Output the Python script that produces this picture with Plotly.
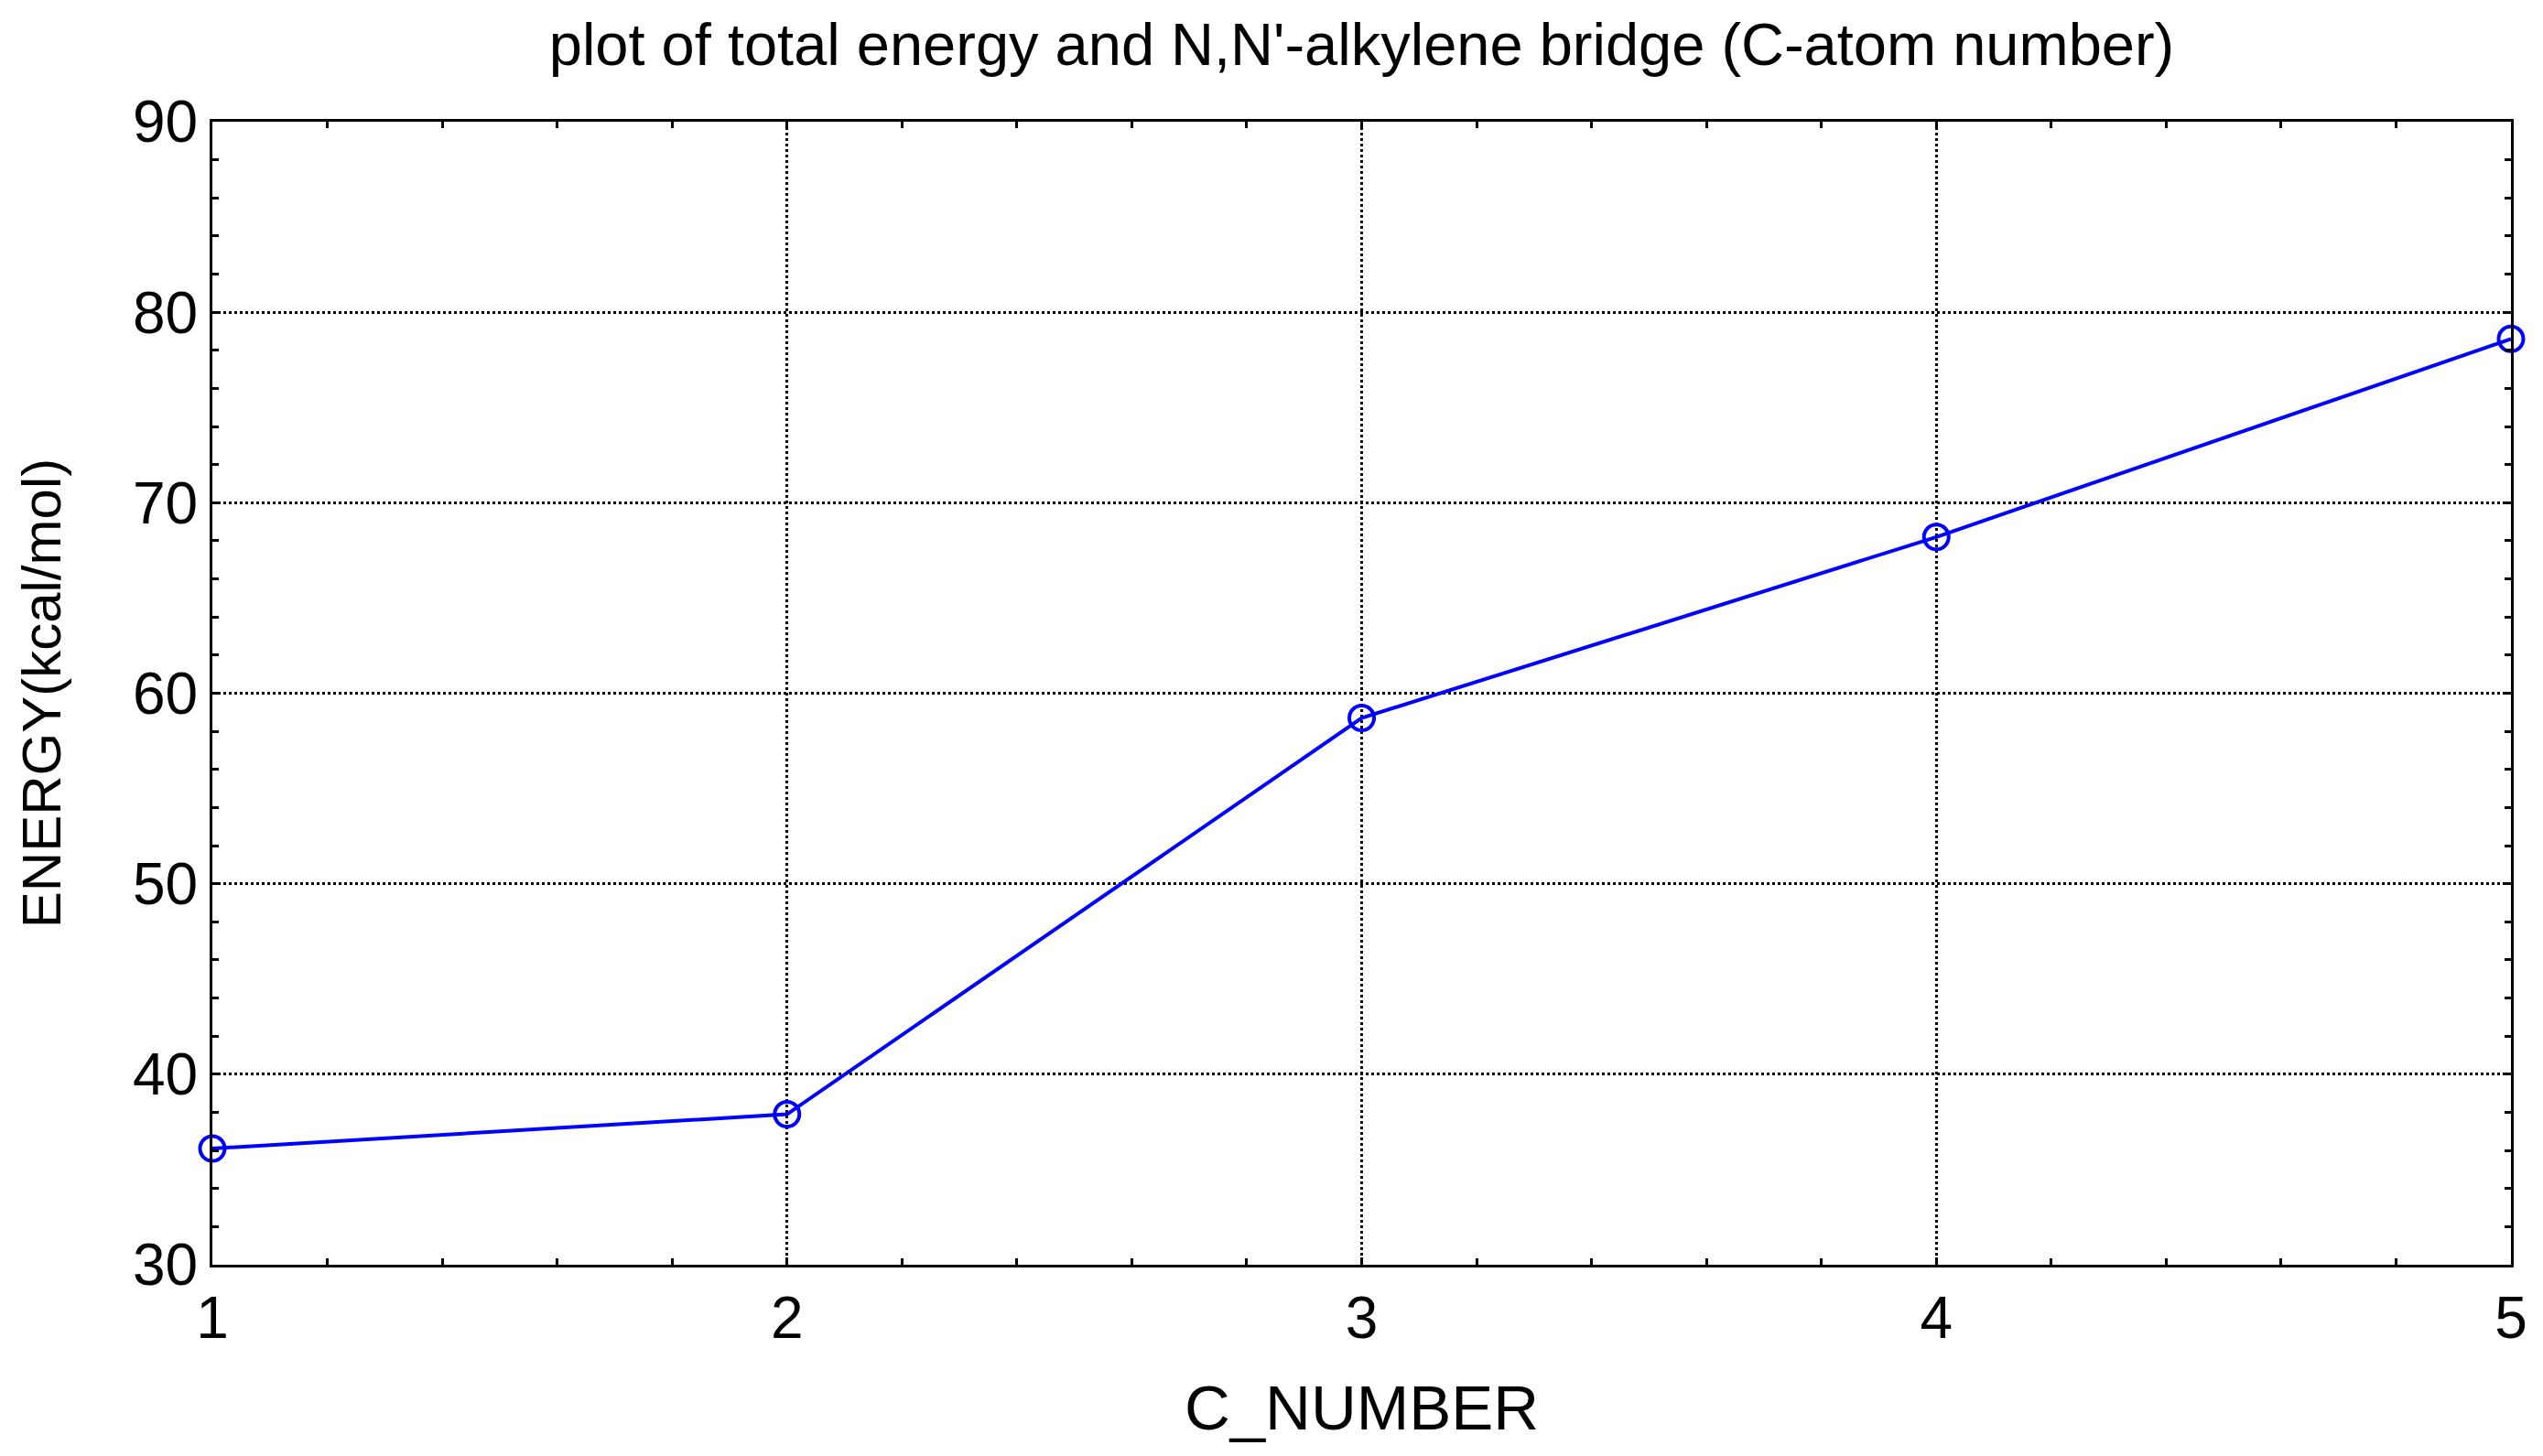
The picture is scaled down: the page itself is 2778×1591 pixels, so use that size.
import plotly.graph_objects as go

# data
c_number = [1, 2, 3, 4, 5]
energy = [36.1, 37.9, 58.7, 68.2, 78.6]
x_ticks = [1, 2, 3, 4, 5]
y_ticks = [30, 40, 50, 60, 70, 80, 90]

font_family = "Liberation Sans, Arial, sans-serif"

fig = go.Figure()
fig.add_trace(
    go.Scatter(
        x=c_number,
        y=energy,
        mode="lines+markers",
        line=dict(color="#0000FF", width=4),
        marker=dict(
            symbol="circle-open",
            size=27,
            color="#0000FF",
            line=dict(width=4, color="#0000FF"),
        ),
        cliponaxis=False,
        showlegend=False,
    )
)

axis_common = dict(
    showline=True,
    linecolor="black",
    linewidth=3,
    mirror="allticks",
    ticks="inside",
    ticklen=8,
    tickwidth=3,
    tickcolor="black",
    showgrid=True,
    gridcolor="black",
    gridwidth=3,
    griddash="dot",
    zeroline=False,
    tickfont=dict(family=font_family, size=64, color="black"),
)

fig.update_xaxes(
    **axis_common,
    range=[1, 5],
    tickvals=x_ticks,
    ticktext=[str(v) for v in x_ticks],
    minor=dict(ticks="inside", dtick=0.2, ticklen=7, tickwidth=3, tickcolor="black", showgrid=False),
    title=dict(text="C_NUMBER", font=dict(family=font_family, size=69, color="black"), standoff=39),
)
fig.update_yaxes(
    **axis_common,
    range=[30, 90],
    tickvals=y_ticks,
    ticktext=[str(v) for v in y_ticks],
    minor=dict(ticks="inside", dtick=2, ticklen=7, tickwidth=3, tickcolor="black", showgrid=False),
    title=dict(text="ENERGY(kcal/mol)", font=dict(family=font_family, size=60, color="black"), standoff=60),
)

# page body adds an 8px offset, so the figure is sized a little smaller
fig.update_layout(
    width=2770,
    height=1583,
    paper_bgcolor="white",
    plot_bgcolor="white",
    margin=dict(l=224, r=35, t=125, b=209),
    title=dict(
        text="plot of total energy and N,N'-alkylene bridge (C-atom number)",
        font=dict(family=font_family, size=65, color="black"),
        xref="paper",
        x=0.5,
        xanchor="center",
        y=0.9745,
        yanchor="middle",
    ),
)

fig.write_html("out.html")
